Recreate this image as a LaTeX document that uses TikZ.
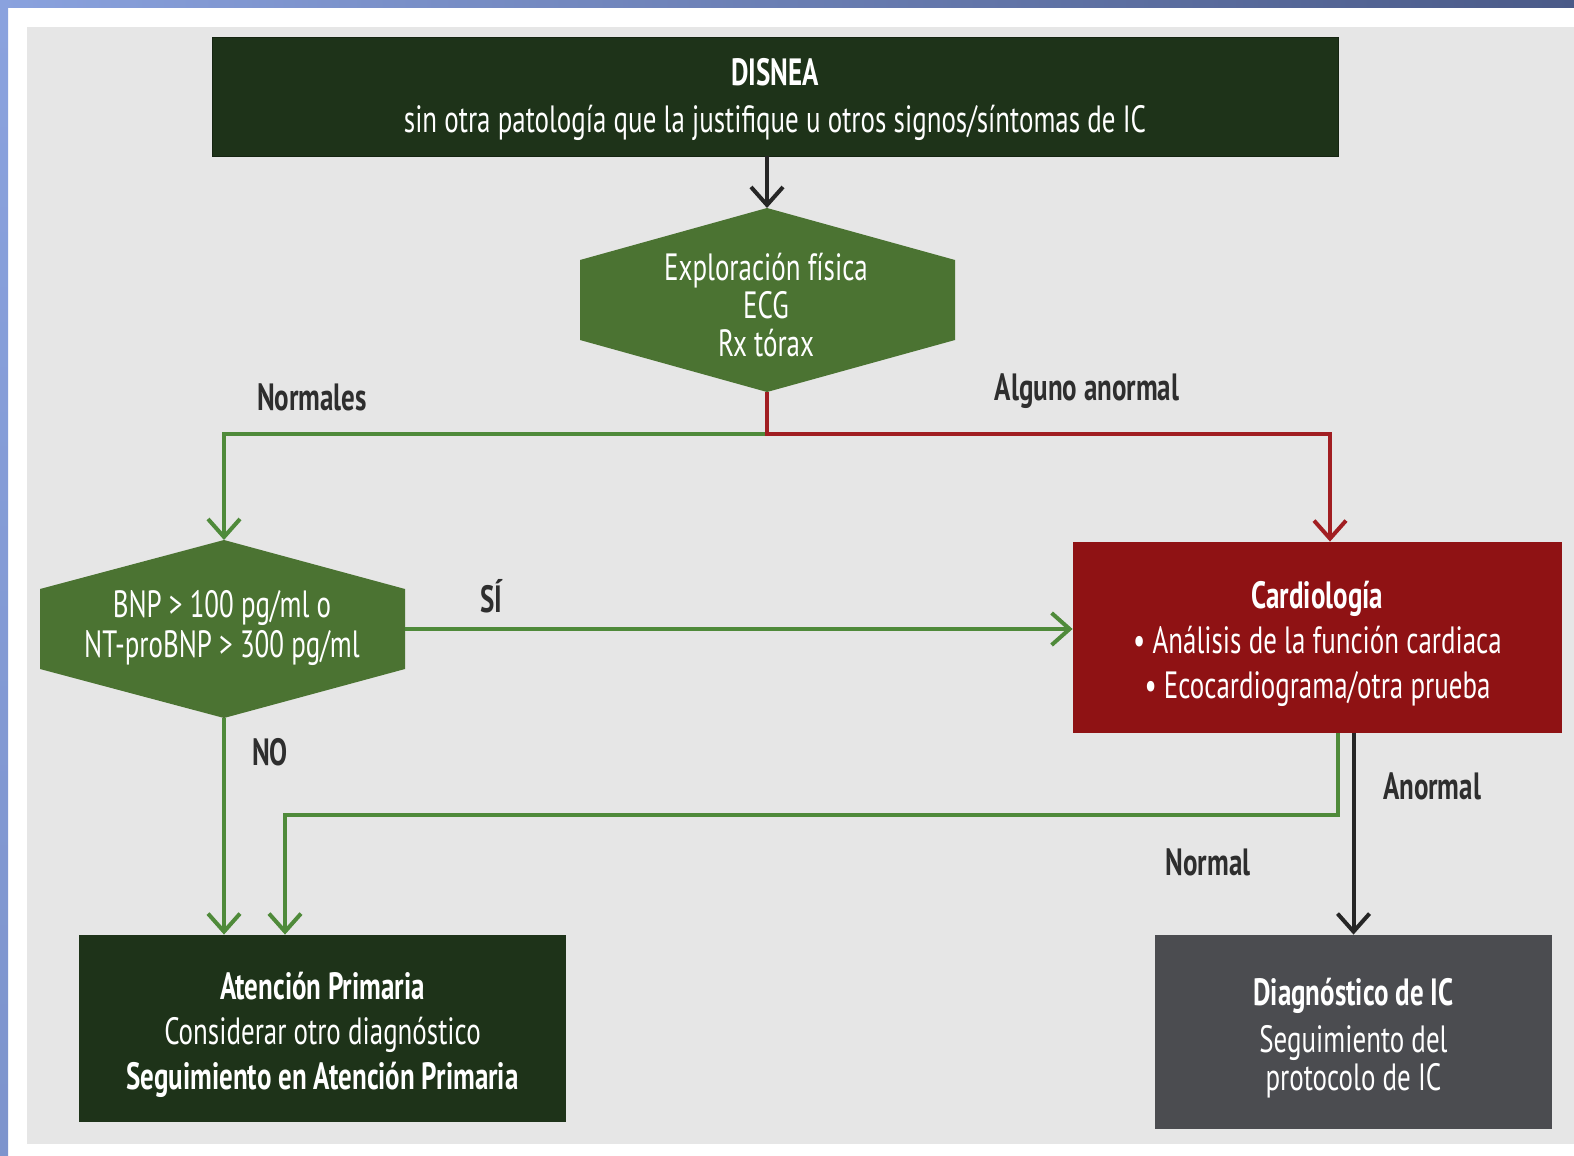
\documentclass[tikz,border=0pt]{standalone}
\usepackage{fontspec}
\setmainfont{PT Sans}[FakeStretch=0.71]
\usetikzlibrary{arrows.meta}
\definecolor{panel}{HTML}{E6E6E6}
\definecolor{dgreen}{HTML}{1E3319}
\definecolor{hgreen}{HTML}{4B7332}
\definecolor{lgreen}{HTML}{4F8A3A}
\definecolor{rbox}{HTML}{8F1214}
\definecolor{rline}{HTML}{A11E22}
\definecolor{gbox}{HTML}{4B4C50}
\definecolor{lbl}{HTML}{2E2E2E}
\definecolor{blueA}{HTML}{8AA2DE}
\definecolor{blueB}{HTML}{4A5A88}
\tikzset{
  box/.style={rectangle, inner sep=0pt},
  boxtext/.style={inner sep=0pt, text=white, align=center, font=\fontsize{19}{23.5}\selectfont},
  hextext/.style={inner sep=0pt, text=white, align=center},
  lab/.style={text=lbl, font=\fontsize{19}{22}\selectfont\bfseries, inner sep=0pt},
  conn/.style={line width=2pt, -{Straight Barb[length=9pt, width=16pt, line width=2pt]}},
  gconn/.style={conn, draw=lgreen},
  rconn/.style={conn, draw=rline},
  kconn/.style={conn, draw=black!85}
}
\begin{document}
\begin{tikzpicture}[x=0.5pt, y=-0.5pt]
\useasboundingbox (0,0) rectangle (1574,1156);
% frame
\fill[white] (0,0) rectangle (1574,1156);
\shade[left color=blueA, right color=blueB] (0,0) rectangle (1574,8);
\shade[top color=blueA, bottom color=blueA!80!blueB] (0,8) rectangle (8,1156);
\fill[panel] (27,27) rectangle (1574,1144);
% hexagons
\fill[hgreen] (767,208) coordinate (h1t) -- (955,260) -- (955,340) -- (767,392) coordinate (h1b) -- (580,340) -- (580,260) -- cycle;
\node[hextext, font=\fontsize{19}{19}\selectfont] (hex1) at (766,305) {Exploración física\\ECG\\Rx tórax};
\fill[hgreen] (224,540) coordinate (h2t) -- (405,589) -- (405,669) coordinate[pos=0.5] (h2r) -- (224,718) coordinate (h2b) -- (40,669) -- (40,589) -- cycle;
\node[hextext, font=\fontsize{19}{20}\selectfont] (hex2) at (222,628) {BNP > 100 pg/ml o\\NT-proBNP > 300 pg/ml};
% boxes
\node[box, fill=dgreen, draw=dgreen!70!black, minimum width=563pt, minimum height=59.5pt] (top) at (775,96.5) {};
\node[boxtext] (toptxt) at ([yshift=-1.5pt]top.center)
  {{\bfseries DISNEA}\\sin otra patología que la justifique u otros signos/síntomas de IC};
\node[box, fill=rbox, minimum width=244.5pt, minimum height=95.5pt] (cardio) at (1317.5,637.5) {};
\node[boxtext, font=\fontsize{19}{22.5}\selectfont] (cardiotxt) at ([yshift=-3pt]cardio.center)
  {{\bfseries Cardiología}\\• Análisis de la función cardiaca\\• Ecocardiograma/otra prueba};
\node[box, fill=dgreen, minimum width=243.5pt, minimum height=93.5pt] (aten) at (322.5,1028.5) {};
\node[boxtext, font=\fontsize{19}{22.5}\selectfont] (atentxt) at ([yshift=-3.25pt]aten.center)
  {{\bfseries Atención Primaria}\\Considerar otro diagnóstico\\{\bfseries Seguimiento en Atención Primaria}};
\node[box, fill=gbox, minimum width=198.5pt, minimum height=97pt] (diag) at (1353.5,1032) {};
\node[boxtext, font=\fontsize{19}{19}\selectfont] (diagtxt) at ([yshift=-3pt]diag.center)
  {{\bfseries Diagnóstico de IC}\\[4.5pt]Seguimiento del\\protocolo de IC};
% connectors
\draw[kconn] (top.south -| h1t) -- (h1t);
\draw[gconn] (h1b) -- ++(0,42) -| (h2t);
\draw[rconn] (h1b) -- ++(0,42) -| ([xshift=6.25pt]cardio.north);
\draw[gconn] (h2r) -- (h2r -| cardio.west);
\draw[gconn] (h2b) -- (h2b |- aten.north);
\draw[gconn] ([xshift=10.25pt]cardio.south) -- ++(0,82) -| ([xshift=-18.75pt]aten.north);
\draw[kconn] (diag.north |- cardio.south) -- (diag.north);
% labels
\node[lab] (lnorm) at (312,397) {Normales};
\node[lab] (lalg) at (1087,391) {Alguno anormal};
\node[lab] (lsi) at (491,596) {SÍ};
\node[lab] (lno) at (270,752) {NO};
\node[lab] (lanor) at (1432,786) {Anormal};
\node[lab] (lnormal) at (1208,862) {Normal};
\end{tikzpicture}
\end{document}
